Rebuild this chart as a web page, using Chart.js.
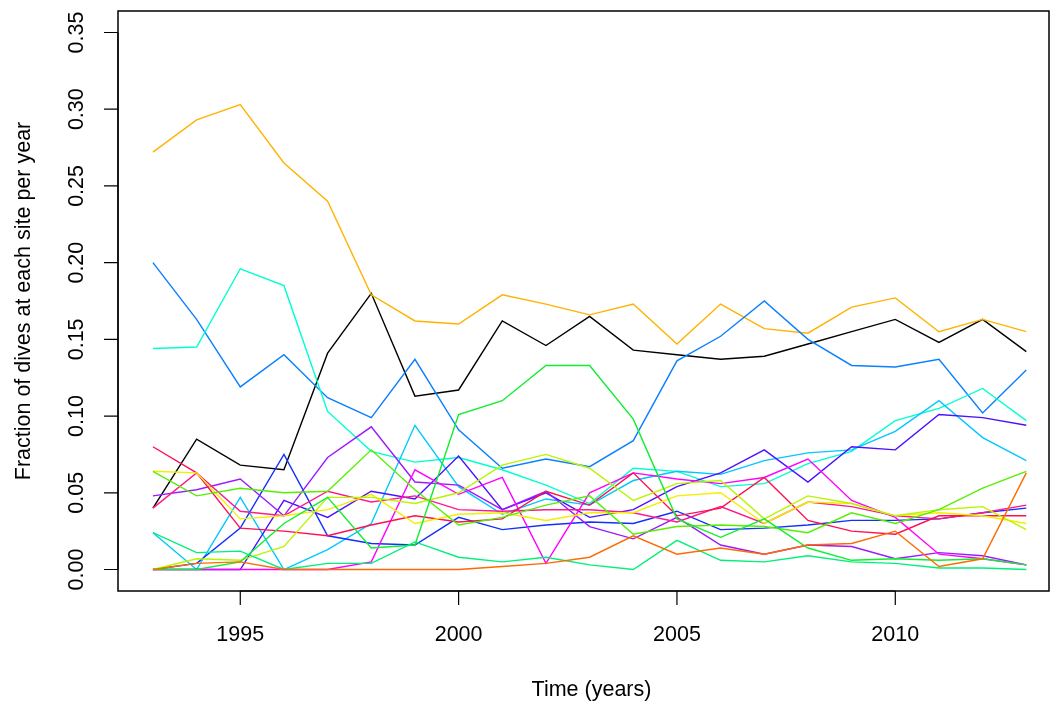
<!DOCTYPE html>
<html>
<head>
<meta charset="utf-8">
<script src="https://cdn.jsdelivr.net/npm/chart.js@4/dist/chart.umd.min.js"></script>
<style>
  html, body { margin: 0; padding: 0; background: #ffffff; }
  #wrap { width: 1051px; height: 709px; position: relative; }
</style>
</head>
<body>
<div id="wrap"><canvas id="c"></canvas></div>
<script>
const years = [1993,1994,1995,1996,1997,1998,1999,2000,2001,2002,2003,2004,2005,2006,2007,2008,2009,2010,2011,2012,2013];
const xTicks = [1995, 2000, 2005, 2010];
const yTicks = [0.00, 0.05, 0.10, 0.15, 0.20, 0.25, 0.30, 0.35];
const xTitle = "Time (years)";
const yTitle = "Fraction of dives at each site per year";

const siteOrange   = [0,0.004,0.005,0,0,0,0,0,0.002,0.004,0.008,0.022,0.010,0.014,0.010,0.016,0.017,0.025,0.002,0.007,0.063];
const siteSpring   = [0.024,0.011,0.012,0.000,0.004,0.004,0.018,0.008,0.005,0.008,0.003,0.000,0.019,0.006,0.005,0.009,0.005,0.004,0.001,0.001,0.000];
const siteGreen    = [0,0,0.005,0.030,0.047,0.014,0.016,0.101,0.110,0.133,0.133,0.098,0.033,0.021,0.033,0.014,0.006,0.007,0.006,0.007,0.003];
const siteGreen2   = [0.064,0.048,0.053,0.050,0.051,0.078,0.052,0.029,0.034,0.042,0.048,0.023,0.028,0.029,0.028,0.024,0.037,0.030,0.039,0.053,0.064];
const siteLime     = [0.000,0.007,0.006,0.015,0.047,0.047,0.043,0.050,0.068,0.075,0.066,0.045,0.056,0.058,0.033,0.048,0.043,0.035,0.039,0.041,0.026];
const siteYellow   = [0.064,0.063,0.033,0.035,0.039,0.049,0.030,0.036,0.037,0.032,0.037,0.037,0.048,0.050,0.030,0.044,0.043,0.035,0.037,0.035,0.030];
const siteRed      = [0.080,0.063,0.027,0.025,0.022,0.029,0.035,0.031,0.033,0.051,0.042,0.063,0.035,0.040,0.060,0.032,0.025,0.023,0.035,0.035,0.035];
const sitePink     = [0.040,0.063,0.038,0.035,0.051,0.044,0.048,0.039,0.038,0.039,0.039,0.037,0.031,0.041,0.030,0.044,0.041,0.035,0.033,0.037,0.042];
const siteMagenta  = [0,0,0,0,0,0.005,0.065,0.049,0.060,0.004,0.050,0.063,0.059,0.056,0.060,0.072,0.045,0.034,0.010,0.007,0.003];
const sitePurple   = [0.048,0.052,0.059,0.035,0.073,0.093,0.057,0.055,0.039,0.051,0.028,0.020,0.034,0.016,0.010,0.016,0.015,0.007,0.011,0.009,0.003];
const siteViolet   = [0,0,0,0.045,0.034,0.051,0.046,0.074,0.039,0.050,0.034,0.039,0.054,0.063,0.078,0.057,0.080,0.078,0.101,0.099,0.094];
const siteBlue2    = [0,0.004,0.027,0.075,0.022,0.017,0.016,0.034,0.026,0.029,0.031,0.030,0.038,0.026,0.027,0.029,0.032,0.032,0.033,0.037,0.040];
const siteSky      = [0.024,0.000,0.047,0.000,0.013,0.030,0.094,0.054,0.036,0.046,0.042,0.058,0.064,0.062,0.071,0.076,0.078,0.090,0.110,0.086,0.071];
const siteTurq     = [0.144,0.145,0.196,0.185,0.103,0.077,0.070,0.073,0.065,0.055,0.043,0.066,0.064,0.054,0.056,0.069,0.077,0.097,0.105,0.118,0.097];
const siteBlue     = [0.200,0.163,0.119,0.140,0.112,0.099,0.137,0.091,0.066,0.072,0.067,0.084,0.136,0.152,0.175,0.150,0.133,0.132,0.137,0.102,0.130];
const siteAmber    = [0.272,0.293,0.303,0.265,0.240,0.179,0.162,0.160,0.179,0.173,0.166,0.173,0.147,0.173,0.157,0.154,0.171,0.177,0.155,0.163,0.155];
const siteBlack    = [0.040,0.085,0.068,0.065,0.141,0.180,0.113,0.117,0.162,0.146,0.165,0.143,0.140,0.137,0.139,0.147,0.155,0.163,0.148,0.163,0.142];

const seriesList = [
  ["orange", siteOrange, "#FF6A00"],
  ["spring", siteSpring, "#00F07A"],
  ["green", siteGreen, "#10EE30"],
  ["green2", siteGreen2, "#55F000"],
  ["lime", siteLime, "#B8F500"],
  ["yellow", siteYellow, "#F0F000"],
  ["red", siteRed, "#FF1050"],
  ["pink", sitePink, "#FF1A8C"],
  ["magenta", siteMagenta, "#FF00FF"],
  ["purple", sitePurple, "#9B1AFF"],
  ["violet", siteViolet, "#4B10FF"],
  ["blue2", siteBlue2, "#1030FF"],
  ["sky", siteSky, "#00C8FF"],
  ["turq", siteTurq, "#00FFD0"],
  ["blue", siteBlue, "#0A7FFF"],
  ["amber", siteAmber, "#FFB300"],
  ["black", siteBlack, "#000000"]
];

const FONT = "'Liberation Sans', Arial, Helvetica, sans-serif";

const datasets = seriesList.map(([name, vals, col]) => ({
  label: name,
  data: years.map((y, i) => ({ x: y, y: vals[i] })),
  borderColor: col,
  backgroundColor: col,
  borderWidth: 1.4,
  pointRadius: 0,
  tension: 0,
  fill: false
}));

const rAxes = {
  id: 'rAxes',
  afterDraw(chart) {
    const ctx = chart.ctx;
    const a = chart.chartArea;
    const xs = chart.scales.x, ys = chart.scales.y;
    ctx.save();
    ctx.strokeStyle = '#000';
    ctx.fillStyle = '#000';
    ctx.lineWidth = 1.5;
    ctx.strokeRect(a.left, a.top, a.right - a.left, a.bottom - a.top);
    const tl = 14;
    ctx.font = '21.5px ' + FONT;
    // x axis
    ctx.lineWidth = 1.2;
    ctx.beginPath();
    ctx.moveTo(xs.getPixelForValue(xTicks[0]), a.bottom);
    ctx.lineTo(xs.getPixelForValue(xTicks[xTicks.length-1]), a.bottom);
    xTicks.forEach(t => {
      const px = xs.getPixelForValue(t);
      ctx.moveTo(px, a.bottom); ctx.lineTo(px, a.bottom + tl);
    });
    ctx.stroke();
    ctx.textAlign = 'center'; ctx.textBaseline = 'middle';
    xTicks.forEach(t => ctx.fillText(String(t), xs.getPixelForValue(t), 635));
    ctx.fillText(xTitle, (a.left + a.right) / 2 + 8, 690);
    // y axis
    ctx.beginPath();
    ctx.moveTo(a.left, ys.getPixelForValue(yTicks[0]));
    ctx.lineTo(a.left, ys.getPixelForValue(yTicks[yTicks.length-1]));
    yTicks.forEach(t => {
      const py = ys.getPixelForValue(t);
      ctx.moveTo(a.left, py); ctx.lineTo(a.left - tl, py);
    });
    ctx.stroke();
    yTicks.forEach(t => {
      const py = ys.getPixelForValue(t);
      ctx.save();
      ctx.translate(77, py);
      ctx.rotate(-Math.PI / 2);
      ctx.fillText(t.toFixed(2), 0, 0);
      ctx.restore();
    });
    ctx.save();
    ctx.translate(24, (a.top + a.bottom) / 2);
    ctx.rotate(-Math.PI / 2);
    ctx.fillText(yTitle, 0, 0);
    ctx.restore();
    ctx.restore();
  }
};

new Chart(document.getElementById('c'), {
  type: 'line',
  data: { datasets },
  options: {
    responsive: true,
    maintainAspectRatio: false,
    animation: false,
    layout: { padding: { left: 118, right: 2, top: 11, bottom: 118 } },
    plugins: { legend: { display: false }, tooltip: { enabled: false } },
    scales: {
      x: { type: 'linear', display: false, min: 1992.2, max: 2013.52 },
      y: { type: 'linear', display: false, min: -0.014, max: 0.364 }
    }
  },
  plugins: [rAxes]
});
</script>
</body>
</html>
